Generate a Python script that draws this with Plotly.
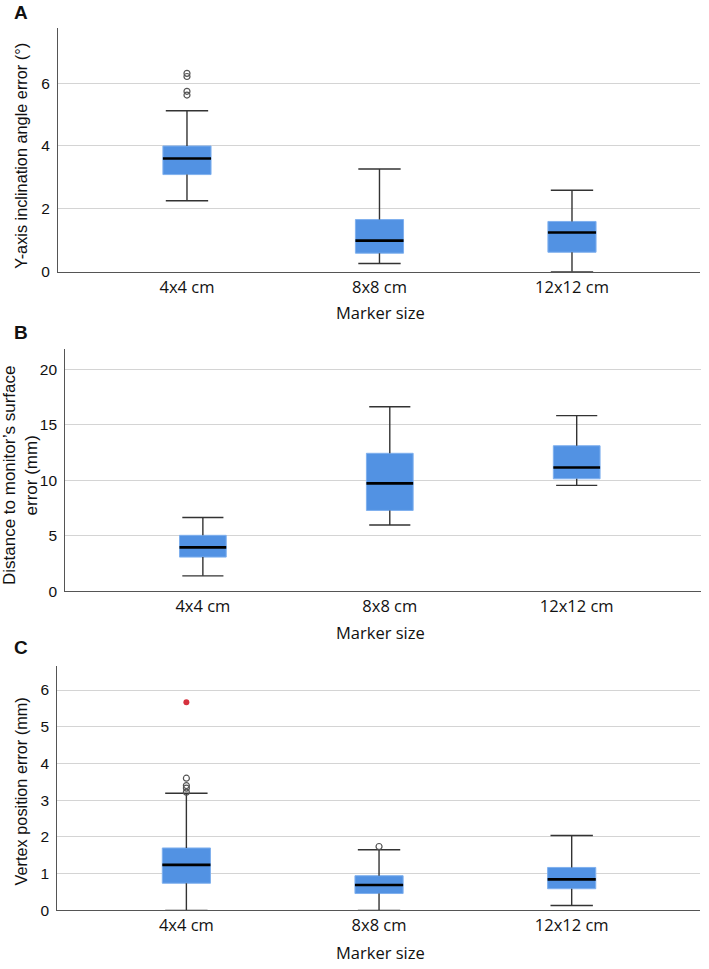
import plotly.graph_objects as go

categories = ["4x4 cm", "8x8 cm", "12x12 cm"]

# Panel A: Y-axis inclination angle error (deg)
a_q1 = [3.09, 0.59, 0.62]
a_med = [3.60, 0.99, 1.25]
a_q3 = [4.00, 1.66, 1.60]
a_low = [2.26, 0.26, 0.00]
a_high = [5.12, 3.27, 2.59]
a_out_cat = [0, 0, 0, 0]
a_out_val = [5.62, 5.74, 6.21, 6.31]

# Panel B: Distance to monitor's surface error (mm)
b_q1 = [3.09, 7.29, 10.14]
b_med = [3.96, 9.73, 11.16]
b_q3 = [5.05, 12.44, 13.12]
b_low = [1.40, 5.98, 9.55]
b_high = [6.66, 16.63, 15.83]

# Panel C: Vertex position error (mm)
c_q1 = [0.74, 0.46, 0.59]
c_med = [1.24, 0.69, 0.845]
c_q3 = [1.70, 0.945, 1.17]
c_low = [0.00, 0.00, 0.135]
c_high = [3.19, 1.65, 2.04]
c_out_cat = [0, 0, 0, 0, 1]
c_out_val = [3.22, 3.33, 3.40, 3.60, 1.74]
c_ext_cat = [0]
c_ext_val = [5.67]

BLUE = "#5292e3"
EDGE = "#7fb0ee"
WHISK = "#333333"
BOX_W = 0.25
CAP_W = 0.11

fig = go.Figure()

panels = [
    dict(ax="", q1=a_q1, med=a_med, q3=a_q3, lo=a_low, hi=a_high,
         out=(a_out_cat, a_out_val), ext=None),
    dict(ax="2", q1=b_q1, med=b_med, q3=b_q3, lo=b_low, hi=b_high,
         out=None, ext=None),
    dict(ax="3", q1=c_q1, med=c_med, q3=c_q3, lo=c_low, hi=c_high,
         out=(c_out_cat, c_out_val), ext=(c_ext_cat, c_ext_val)),
]

for p in panels:
    xa = "x" + p["ax"]
    ya = "y" + p["ax"]
    xs = list(range(len(categories)))
    fig.add_trace(go.Box(
        x=xs, q1=p["q1"], median=p["med"], q3=p["q3"],
        lowerfence=p["q1"], upperfence=p["q3"],
        width=BOX_W, fillcolor=BLUE, line=dict(color=EDGE, width=1),
        whiskerwidth=0, boxpoints=False, showlegend=False,
        hoverinfo="skip", xaxis=xa, yaxis=ya))
    # whiskers and caps
    wx, wy = [], []
    for i in xs:
        wx += [i, i, None, i, i, None,
               i - CAP_W, i + CAP_W, None, i - CAP_W, i + CAP_W, None]
        wy += [p["q3"][i], p["hi"][i], None, p["q1"][i], p["lo"][i], None,
               p["hi"][i], p["hi"][i], None, p["lo"][i], p["lo"][i], None]
    fig.add_trace(go.Scatter(x=wx, y=wy, mode="lines",
                             line=dict(color=WHISK, width=1.4),
                             showlegend=False, hoverinfo="skip",
                             xaxis=xa, yaxis=ya))
    # medians
    mx, my = [], []
    for i in xs:
        mx += [i - BOX_W / 2, i + BOX_W / 2, None]
        my += [p["med"][i], p["med"][i], None]
    fig.add_trace(go.Scatter(x=mx, y=my, mode="lines",
                             line=dict(color="black", width=2.6),
                             showlegend=False, hoverinfo="skip",
                             xaxis=xa, yaxis=ya))
    if p["out"]:
        fig.add_trace(go.Scatter(x=p["out"][0], y=p["out"][1], mode="markers",
                                 marker=dict(symbol="circle-open", size=6,
                                             color="#555555",
                                             line=dict(width=1.2)),
                                 showlegend=False, xaxis=xa, yaxis=ya))
    if p["ext"]:
        fig.add_trace(go.Scatter(x=p["ext"][0], y=p["ext"][1], mode="markers",
                                 marker=dict(symbol="circle", size=6,
                                             color="#d6313e"),
                                 showlegend=False, xaxis=xa, yaxis=ya))

W, H = 709, 969

def xdom(l, r):
    return [l / W, r / W]

def ydom(top, bottom):
    return [1 - bottom / H, 1 - top / H]

tickfont_y = dict(family="Liberation Sans, Arial, sans-serif", size=15.5, color="#111")
tickfont_x = dict(family="Open Sans, sans-serif", size=16.5, color="#111")

def xaxis(dom, rng, anchor):
    return dict(domain=dom, range=rng, anchor=anchor,
                tickvals=list(range(len(categories))), ticktext=categories,
                showgrid=False, zeroline=False, showline=True,
                linecolor="#555", linewidth=1.2, ticks="",
                tickfont=tickfont_x, fixedrange=True)

def yaxis(dom, rng, dtick, anchor):
    return dict(domain=dom, range=rng, anchor=anchor, dtick=dtick,
                showgrid=True, gridcolor="#d4d4d4", gridwidth=1.2,
                zeroline=False, showline=True, linecolor="#555",
                linewidth=1.2, ticks="", ticklabelstandoff=4,
                tickfont=tickfont_y, fixedrange=True)

fig.update_layout(
    width=W, height=H,
    margin=dict(l=0, r=0, t=0, b=0),
    paper_bgcolor="white", plot_bgcolor="white",
    showlegend=False,
    xaxis=xaxis(xdom(58, 700), [-0.67, 2.665], "y"),
    yaxis=yaxis(ydom(28, 274), [0, 7.76], 2, "x"),
    xaxis2=xaxis(xdom(65.3, 701), [-0.736, 2.665], "y2"),
    yaxis2=yaxis(ydom(352.3, 596.3), [0, 21.8], 5, "x2"),
    xaxis3=xaxis(xdom(57.3, 700), [-0.67, 2.666], "y3"),
    yaxis3=yaxis(ydom(671.7, 918), [0, 6.65], 1, "x3"),
)

ann = []
# panel letters
for letter, y in [("A", 13), ("B", 335), ("C", 653)]:
    ann.append(dict(text="<b>%s</b>" % letter, x=21 / W, y=1 - y / H,
                    xanchor="center", yanchor="middle",
                    xref="paper", yref="paper", showarrow=False,
                    font=dict(family="Liberation Sans, Arial, sans-serif",
                              size=19, color="#111")))
# x axis titles
for y in [315, 638, 960]:
    ann.append(dict(text="Marker size", x=380 / W, y=1 - y / H,
                    xanchor="center", yanchor="middle",
                    xref="paper", yref="paper", showarrow=False,
                    font=dict(family="Open Sans, sans-serif", size=16.5,
                              color="#111")))
for txt, x, y, fs in [("Y-axis inclination angle error (°)", 21, 157, 16.3),
                      ("Distance to monitor’s surface<br>error (mm)", 20, 479, 17),
                      ("Vertex position error (mm)", 21, 798, 16.3)]:
    ann.append(dict(text=txt, x=x / W, y=1 - y / H,
                    xanchor="center", yanchor="middle",
                    xref="paper", yref="paper", showarrow=False,
                    textangle=-90,
                    font=dict(family="Liberation Sans, Arial, sans-serif",
                              size=fs, color="#111")))
fig.update_layout(annotations=ann)

fig.write_html("out.html",
               config={"displayModeBar": False},
               post_script="document.body.style.margin='0';")
